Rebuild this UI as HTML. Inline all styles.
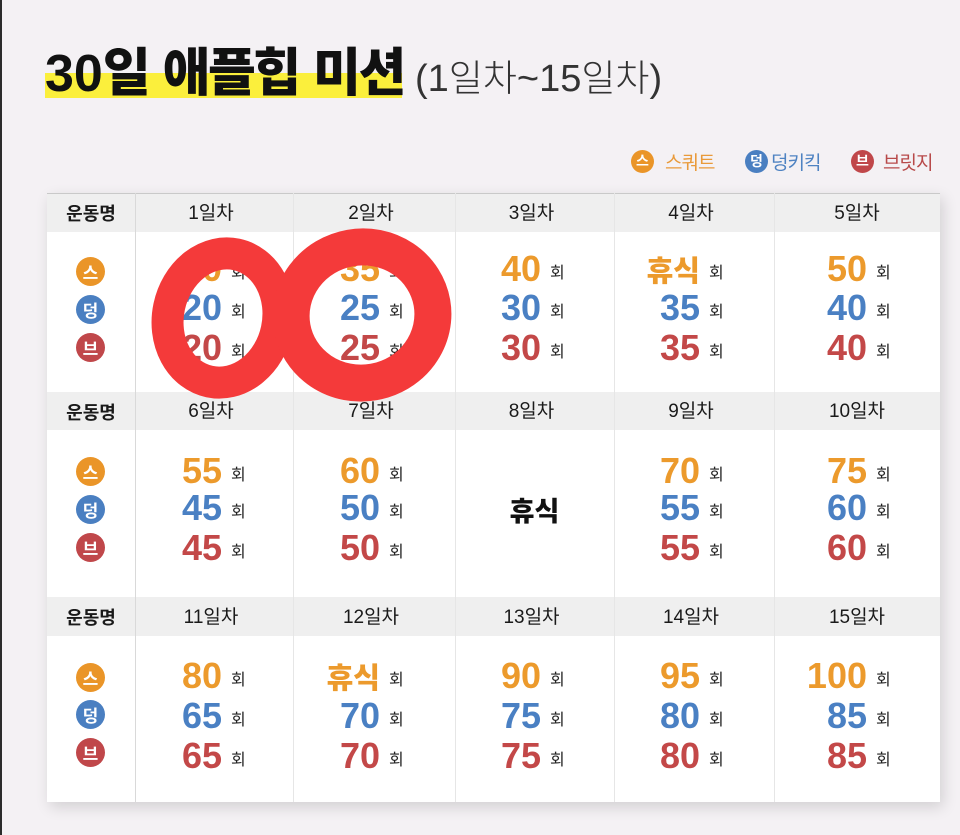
<!DOCTYPE html>
<html><head><meta charset="utf-8">
<style>
*{margin:0;padding:0;box-sizing:border-box}
body{width:960px;height:835px;background:#f4f1f4;position:relative;overflow:hidden;font-family:"Liberation Sans","Noto Sans CJK KR",sans-serif}
.a{position:absolute}
.edge{left:0;top:0;width:2px;height:835px;background:#2b2b2b}
.hl{left:45px;top:73px;width:357px;height:25px;background:#fbef3c}
.title{position:absolute;left:45px;top:44px;line-height:60px;font-size:52px;font-weight:bold;color:#111;white-space:nowrap}
.title .t{display:inline-block;width:370px}
.title .k{font-family:"Noto Sans CJK KR",sans-serif;font-size:52px;line-height:40px;font-weight:900;letter-spacing:-2.5px}
.sub{font-weight:normal;color:#333;font-size:38px}
.sub .k2{font-family:"Noto Sans CJK KR",sans-serif;font-size:37px;font-weight:300}
.lc{position:absolute;width:23px;height:23px;border-radius:50%;color:#fff;font:bold 14px/23px "Noto Sans CJK KR",sans-serif;text-align:center}
.lt{position:absolute;top:149px;font:19px/26px "Noto Sans CJK KR",sans-serif;letter-spacing:-1px}
.tbl{left:47px;top:193px;width:893px;height:609px;background:#fff;box-shadow:3px 5px 14px rgba(0,0,0,0.14);border-top:1px solid #c9c9c9}
.band{position:absolute;left:47px;width:893px;background:#efefef}
.vl{position:absolute;top:193px;width:1px;height:609px;background:#e6e6e6}
.h{position:absolute;text-align:center;font-family:"Liberation Sans","Noto Sans CJK KR",sans-serif;font-size:19px;color:#1a1a1a;white-space:nowrap}
.h.b{font-family:"Noto Sans CJK KR",sans-serif;font-weight:bold;font-size:18px}
.c{position:absolute;left:76px;width:29px;height:29px;border-radius:50%;color:#fff;font:bold 17px/29px "Noto Sans CJK KR",sans-serif;text-align:center}
.oc{background:#ea9528}.uc{background:#4a7fc1}.rc{background:#c0474a}
.n{position:absolute;width:260px;font:bold 36px/36px "Liberation Sans",sans-serif;white-space:nowrap}
.n b{display:inline-block;width:200px;text-align:right}
.n i{font-style:normal;font-family:"Noto Sans CJK KR",sans-serif;font-size:16px;font-weight:400;color:#222;margin-left:9px;line-height:1;position:relative;top:-3px}
.n .k{font-family:"Noto Sans CJK KR",sans-serif;font-size:29px;font-weight:900}
.o b{color:#ec9a2c}.u b{color:#4a80c3}.r b{color:#c34848}
.rest{position:absolute;left:455px;width:159px;top:490px;text-align:center;font:900 27px/40px "Noto Sans CJK KR",sans-serif;color:#111}
</style></head><body>
<div class="a edge"></div>
<div class="a hl"></div>
<div class="title"><span class="t">30<span class="k">일</span> <span class="k">애플힙</span> <span class="k">미션</span></span><span class="sub">(1<span class="k2">일차</span>~15<span class="k2">일차</span>)</span></div>

<div class="lc oc" style="left:631px;top:150px">스</div>
<div class="lt" style="left:665px;color:#e99a3a">스쿼트</div>
<div class="lc uc" style="left:745px;top:150px">덩</div>
<div class="lt" style="left:771px;color:#4f83c2">덩키킥</div>
<div class="lc rc" style="left:851px;top:150px">브</div>
<div class="lt" style="left:883px;color:#b84a4a">브릿지</div>

<div class="a tbl"></div>
<div class="band" style="top:194px;height:38px"></div>
<div class="band" style="top:392px;height:38px"></div>
<div class="band" style="top:597px;height:39px"></div>
<div class="vl" style="left:135px;background:#d9d9d9"></div>
<div class="vl" style="left:293px"></div>
<div class="vl" style="left:455px"></div>
<div class="vl" style="left:614px"></div>
<div class="vl" style="left:774px"></div>

<!-- headers row 1 -->
<div class="h b" style="left:47px;width:88px;top:194px;line-height:39px">운동명</div>
<div class="h" style="left:132px;width:158px;top:194px;line-height:39px">1일차</div>
<div class="h" style="left:290px;width:162px;top:194px;line-height:39px">2일차</div>
<div class="h" style="left:452px;width:159px;top:194px;line-height:39px">3일차</div>
<div class="h" style="left:611px;width:160px;top:194px;line-height:39px">4일차</div>
<div class="h" style="left:774px;width:166px;top:194px;line-height:39px">5일차</div>
<!-- headers row 2 -->
<div class="h b" style="left:47px;width:88px;top:393px;line-height:38px">운동명</div>
<div class="h" style="left:132px;width:158px;top:393px;line-height:38px">6일차</div>
<div class="h" style="left:290px;width:162px;top:393px;line-height:38px">7일차</div>
<div class="h" style="left:452px;width:159px;top:393px;line-height:38px">8일차</div>
<div class="h" style="left:611px;width:160px;top:393px;line-height:38px">9일차</div>
<div class="h" style="left:774px;width:166px;top:393px;line-height:38px">10일차</div>
<!-- headers row 3 -->
<div class="h b" style="left:47px;width:88px;top:598px;line-height:39px">운동명</div>
<div class="h" style="left:132px;width:158px;top:598px;line-height:39px">11일차</div>
<div class="h" style="left:290px;width:162px;top:598px;line-height:39px">12일차</div>
<div class="h" style="left:452px;width:159px;top:598px;line-height:39px">13일차</div>
<div class="h" style="left:611px;width:160px;top:598px;line-height:39px">14일차</div>
<div class="h" style="left:774px;width:166px;top:598px;line-height:39px">15일차</div>

<!-- icons -->
<div class="c oc" style="top:257px">스</div>
<div class="c uc" style="top:295px">덩</div>
<div class="c rc" style="top:333px">브</div>
<div class="c oc" style="top:457px">스</div>
<div class="c uc" style="top:495px">덩</div>
<div class="c rc" style="top:533px">브</div>
<div class="c oc" style="top:663px">스</div>
<div class="c uc" style="top:700px">덩</div>
<div class="c rc" style="top:738px">브</div>

<!-- row 1 -->
<div class="n o" style="left:22px;top:251px"><b>30</b><i>회</i></div>
<div class="n u" style="left:22px;top:290px"><b>20</b><i>회</i></div>
<div class="n r" style="left:22px;top:330px"><b>20</b><i>회</i></div>
<div class="n o" style="left:180px;top:251px"><b>35</b><i>회</i></div>
<div class="n u" style="left:180px;top:290px"><b>25</b><i>회</i></div>
<div class="n r" style="left:180px;top:330px"><b>25</b><i>회</i></div>
<div class="n o" style="left:341px;top:251px"><b>40</b><i>회</i></div>
<div class="n u" style="left:341px;top:290px"><b>30</b><i>회</i></div>
<div class="n r" style="left:341px;top:330px"><b>30</b><i>회</i></div>
<div class="n o" style="left:500px;top:251px"><b><span class="k">휴식</span></b><i>회</i></div>
<div class="n u" style="left:500px;top:290px"><b>35</b><i>회</i></div>
<div class="n r" style="left:500px;top:330px"><b>35</b><i>회</i></div>
<div class="n o" style="left:667px;top:251px"><b>50</b><i>회</i></div>
<div class="n u" style="left:667px;top:290px"><b>40</b><i>회</i></div>
<div class="n r" style="left:667px;top:330px"><b>40</b><i>회</i></div>

<!-- row 2 -->
<div class="n o" style="left:22px;top:453px"><b>55</b><i>회</i></div>
<div class="n u" style="left:22px;top:490px"><b>45</b><i>회</i></div>
<div class="n r" style="left:22px;top:530px"><b>45</b><i>회</i></div>
<div class="n o" style="left:180px;top:453px"><b>60</b><i>회</i></div>
<div class="n u" style="left:180px;top:490px"><b>50</b><i>회</i></div>
<div class="n r" style="left:180px;top:530px"><b>50</b><i>회</i></div>
<div class="rest">휴식</div>
<div class="n o" style="left:500px;top:453px"><b>70</b><i>회</i></div>
<div class="n u" style="left:500px;top:490px"><b>55</b><i>회</i></div>
<div class="n r" style="left:500px;top:530px"><b>55</b><i>회</i></div>
<div class="n o" style="left:667px;top:453px"><b>75</b><i>회</i></div>
<div class="n u" style="left:667px;top:490px"><b>60</b><i>회</i></div>
<div class="n r" style="left:667px;top:530px"><b>60</b><i>회</i></div>

<!-- row 3 -->
<div class="n o" style="left:22px;top:658px"><b>80</b><i>회</i></div>
<div class="n u" style="left:22px;top:698px"><b>65</b><i>회</i></div>
<div class="n r" style="left:22px;top:738px"><b>65</b><i>회</i></div>
<div class="n o" style="left:180px;top:658px"><b><span class="k">휴식</span></b><i>회</i></div>
<div class="n u" style="left:180px;top:698px"><b>70</b><i>회</i></div>
<div class="n r" style="left:180px;top:738px"><b>70</b><i>회</i></div>
<div class="n o" style="left:341px;top:658px"><b>90</b><i>회</i></div>
<div class="n u" style="left:341px;top:698px"><b>75</b><i>회</i></div>
<div class="n r" style="left:341px;top:738px"><b>75</b><i>회</i></div>
<div class="n o" style="left:500px;top:658px"><b>95</b><i>회</i></div>
<div class="n u" style="left:500px;top:698px"><b>80</b><i>회</i></div>
<div class="n r" style="left:500px;top:738px"><b>80</b><i>회</i></div>
<div class="n o" style="left:667px;top:658px"><b>100</b><i>회</i></div>
<div class="n u" style="left:667px;top:698px"><b>85</b><i>회</i></div>
<div class="n r" style="left:667px;top:738px"><b>85</b><i>회</i></div>

<!-- red scribble -->
<svg class="a" style="left:0;top:0" width="960" height="835" viewBox="0 0 960 835">
  <ellipse cx="223" cy="318" rx="55" ry="65" transform="rotate(12 223 318)" fill="none" stroke="#f43a3a" stroke-width="32"/>
  <ellipse cx="362" cy="315" rx="71" ry="68" transform="rotate(-10 362 315)" fill="none" stroke="#f43a3a" stroke-width="37"/>
</svg>
</body></html>
